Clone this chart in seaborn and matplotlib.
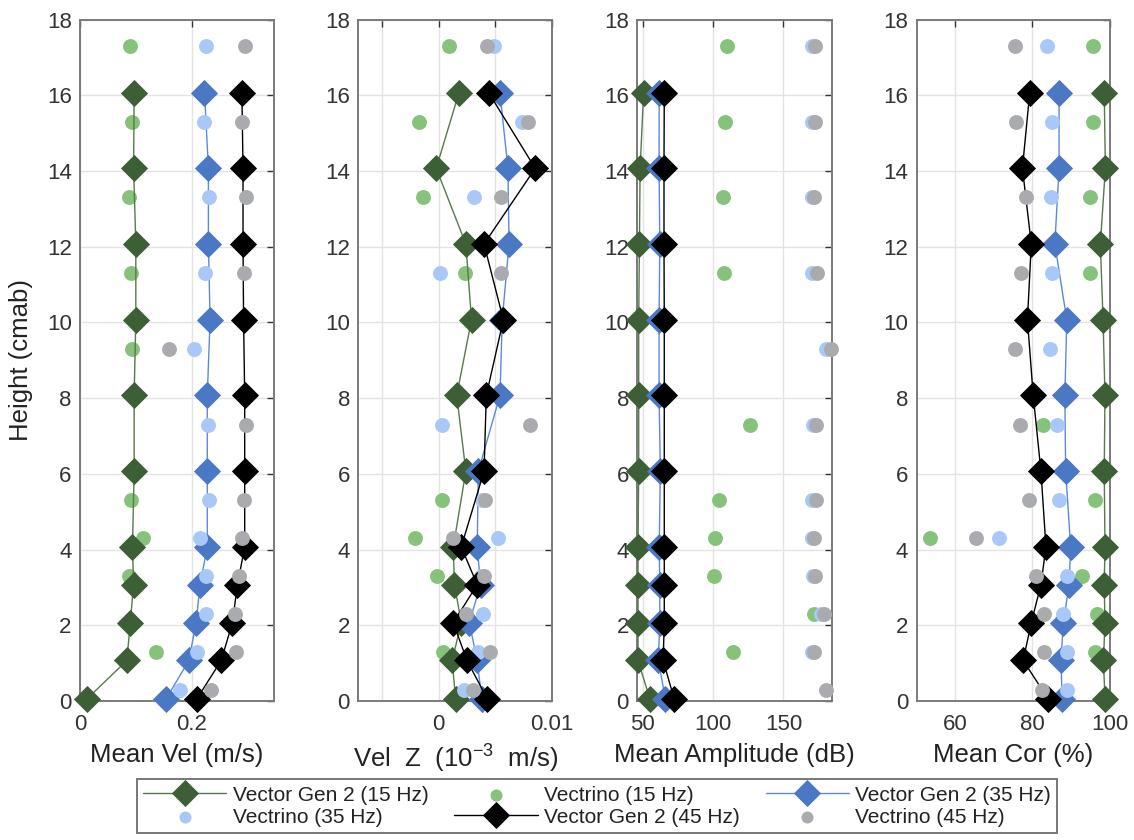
import numpy as np
import matplotlib
matplotlib.use("Agg")
import matplotlib.pyplot as plt
from matplotlib.collections import PathCollection
import seaborn as sns

nan = np.nan

# Heights (cm above bed)
h_vector = [0.05, 1.07, 2.07, 3.07, 4.07, 6.07, 8.07, 10.07, 12.07, 14.07, 16.07]
h_vectrino = [0.3, 1.3, 2.3, 3.3, 4.3, 5.3, 7.3, 9.3, 11.3, 13.3, 15.3, 17.3]

# Mean velocity (m/s)
vel_vg15 = [0.012, 0.084, 0.090, 0.096, 0.094, 0.097, 0.097, 0.100, 0.100, 0.096, 0.097]
vel_vec15 = [nan, 0.137, nan, 0.088, 0.112, 0.091, nan, 0.094, 0.091, 0.088, 0.094, 0.090]
vel_vg35 = [0.154, 0.195, 0.208, 0.215, 0.228, 0.228, 0.228, 0.233, 0.230, 0.230, 0.223]
vel_vec35 = [0.179, 0.209, 0.225, 0.225, 0.215, 0.231, 0.230, 0.205, 0.224, 0.231, 0.223, 0.226]
vel_vg45 = [0.209, 0.253, 0.273, 0.282, 0.295, 0.295, 0.295, 0.293, 0.292, 0.292, 0.290]
vel_vec45 = [0.235, 0.279, 0.277, 0.284, 0.291, 0.293, 0.297, 0.160, 0.294, 0.297, 0.291, 0.296]

# Vertical velocity
velz_vg15 = [0.0015, 0.0012, 0.0020, 0.0014, 0.0013, 0.0024, 0.0016, 0.0029, 0.0024, -0.0002, 0.0018]
velz_vec15 = [nan, 0.0004, nan, -0.0001, -0.0021, 0.0003, nan, nan, 0.0023, -0.0014, -0.0017, 0.0009]
velz_vg35 = [0.0038, 0.0034, 0.0027, 0.0037, 0.0034, 0.0035, 0.0054, 0.0056, 0.0062, 0.0061, 0.0054]
velz_vec35 = [0.0022, 0.0035, 0.0039, 0.0037, 0.0052, 0.0038, 0.0003, nan, 0.0001, 0.0031, 0.0073, 0.0049]
velz_vg45 = [0.0043, 0.0025, 0.0013, 0.0034, 0.0020, 0.0040, 0.0042, 0.0057, 0.0040, 0.0085, 0.0044]
velz_vec45 = [0.0030, 0.0045, 0.0024, 0.0040, 0.0013, 0.0041, 0.0080, nan, 0.0055, 0.0055, 0.0079, 0.0043]

# Mean amplitude (dB)
amp_vg15 = [55, 46.5, 46.5, 46.5, 46.5, 47, 47, 47, 47.5, 48, 50.5]
amp_vec15 = [nan, 114.3, 171.8, 100.5, 101.2, 104.3, 126, nan, 107.6, 107.1, 108.3, 109.5]
amp_vg35 = [66, 61, 62, 62, 61.6, 62.4, 61.5, 61.5, 62, 61.5, 61.6]
amp_vec35 = [nan, 170.4, 177, 171, 170.4, 170.4, 171, 180.6, 170.4, 170.4, 170.4, 170.4]
amp_vg45 = [72.3, 64.4, 65.2, 65.2, 65.2, 65.2, 65.2, 65.2, 65, 65, 65.2]
amp_vec45 = [180.6, 172, 178.7, 172.3, 172, 173.5, 173.5, 183.7, 174, 171.6, 172.3, 172.8]

# Mean correlation (%)
cor_vg15 = [98.8, 98.4, 98.8, 98.6, 98.8, 98.6, 98.8, 98.3, 97.6, 98.9, 98.6]
cor_vec15 = [nan, 96.3, 96.7, 92.8, 53.4, 96.3, 82.8, nan, 94.8, 94.8, 95.6, 95.6]
cor_vg35 = [87.7, 87.4, 88, 89.5, 89.9, 88.6, 88.4, 88.9, 85.8, 86.9, 86.9]
cor_vec35 = [88.9, 88.9, 87.8, 88.9, 71.3, 86.9, 86.4, 84.5, 85, 84.8, 85, 83.7]
cor_vg45 = [84.1, 77.6, 79.7, 82.2, 83.5, 82.2, 80.2, 78.7, 79.7, 77.4, 79.3]
cor_vec45 = [82.5, 83.1, 83.1, 80.9, 65.4, 79.2, 76.9, 75.4, 77.1, 78.2, 75.8, 75.6]

labels = ["Vector Gen 2 (15 Hz)", "Vectrino (15 Hz)", "Vector Gen 2 (35 Hz)",
          "Vectrino (35 Hz)", "Vector Gen 2 (45 Hz)", "Vectrino (45 Hz)"]
xlabels = ["Mean Vel (m/s)", "Vel  Z  (10$^{-3}$  m/s)", "Mean Amplitude (dB)", "Mean Cor (%)"]
yticks = list(range(0, 19, 2))

sns.set_theme(style="white")
plt.rcParams["font.family"] = ["Liberation Sans", "DejaVu Sans"]
plt.rcParams["mathtext.fontset"] = "custom"
plt.rcParams["mathtext.rm"] = "Liberation Sans"
plt.rcParams["mathtext.it"] = "Liberation Sans"

fig = plt.figure(figsize=(11.34, 8.4), dpi=100)

c_vg15_m, c_vg15_l, c_vec15 = "#3d5f35", "#567a4c", "#85c27a"
c_vg35_m, c_vg35_l, c_vec35 = "#4a78c4", "#5b8ad8", "#a8c8f8"
c_vg45_m, c_vg45_l, c_vec45 = "#000000", "#000000", "#a9abae"

lefts = [80, 358.3, 637.3, 916.7]
widths = [194, 194, 195, 193.3]
bottom = 1 - 701 / 840
height = 681.5 / 840

panels = [
    (vel_vg15, vel_vec15, vel_vg35, vel_vec35, vel_vg45, vel_vec45),
    (velz_vg15, velz_vec15, velz_vg35, velz_vec35, velz_vg45, velz_vec45),
    (amp_vg15, amp_vec15, amp_vg35, amp_vec35, amp_vg45, amp_vec45),
    (cor_vg15, cor_vec15, cor_vg35, cor_vec35, cor_vg45, cor_vec45),
]
xlims = [(0, 0.3475), (-0.00705, 0.01), (46, 184.8), (50, 100.1)]
xticks = [[0, 0.2], [-0.005, 0, 0.005, 0.01], [50, 100, 150], [60, 80, 100]]
xticklabels = [["0", "0.2"], ["", "0", "", "0.01"], ["50", "100", "150"], ["60", "80", "100"]]

axes = []
for i, data in enumerate(panels):
    ax = fig.add_axes([lefts[i] / 1134, bottom, widths[i] / 1134, height])
    axes.append(ax)
    vg15, vec15, vg35, vec35, vg45, vec45 = data
    line_kw = dict(sort=False, estimator=None, legend=False, marker="D", markersize=13,
                   markeredgewidth=0.6, clip_on=False)
    dot_kw = dict(s=115, linewidth=0, legend=False, clip_on=False)
    sns.scatterplot(x=vec15, y=h_vectrino, color=c_vec15, ax=ax, zorder=3, label=labels[1], **dot_kw)
    sns.lineplot(x=vg15, y=h_vector, color=c_vg15_l, lw=1.0, markerfacecolor=c_vg15_m,
                 markeredgecolor=c_vg15_m, ax=ax, zorder=4, label=labels[0], **line_kw)
    sns.lineplot(x=vg35, y=h_vector, color=c_vg35_l, lw=1.0, markerfacecolor=c_vg35_m,
                 markeredgecolor=c_vg35_m, ax=ax, zorder=5, label=labels[2], **line_kw)
    sns.scatterplot(x=vec35, y=h_vectrino, color=c_vec35, ax=ax, zorder=6, label=labels[3], **dot_kw)
    sns.lineplot(x=vg45, y=h_vector, color=c_vg45_l, lw=1.0, markerfacecolor=c_vg45_m,
                 markeredgecolor=c_vg45_m, ax=ax, zorder=7, label=labels[4], **line_kw)
    sns.scatterplot(x=vec45, y=h_vectrino, color=c_vec45, ax=ax, zorder=8, label=labels[5], **dot_kw)

    ax.set_xlim(*xlims[i])
    ax.set_ylim(0, 18)
    ax.set_xticks(xticks[i])
    ax.set_xticklabels(xticklabels[i])
    ax.set_yticks(yticks)
    ax.set_yticklabels([str(t) for t in yticks])
    ax.grid(True, color="#e3e3e3", lw=1.0, zorder=0)
    ax.set_axisbelow(True)
    ax.tick_params(direction="in", top=True, right=True, length=5, width=1.0,
                   colors="#333333", labelsize=16, pad=6)
    ax.tick_params(axis="x", pad=9)
    for sp in ax.spines.values():
        sp.set_color("#7a7a7a")
        sp.set_linewidth(1.4)
    ax.set_xlabel(xlabels[i], fontsize=18.5, color="#222222", labelpad=6)
    ax.set_ylabel("")

axes[0].set_ylabel("Height (cmab)", fontsize=18.5, color="#222222", labelpad=10)

h, l = axes[0].get_legend_handles_labels()
lookup = dict(zip(l, h))
order = [labels[0], labels[3], labels[1], labels[4], labels[2], labels[5]]
leg = fig.legend([lookup[k] for k in order], order, loc="lower center",
                 bbox_to_anchor=(597 / 1134, -0.004), ncol=3, fontsize=15,
                 frameon=True, fancybox=False, edgecolor="#777777", framealpha=1,
                 handlelength=4.0, handletextpad=0.3, columnspacing=1.25,
                 labelspacing=0.15, borderpad=0.3, numpoints=1, scatterpoints=1)
leg.get_frame().set_linewidth(1.4)
for t in leg.get_texts():
    t.set_color("#222222")
for hd in leg.legend_handles:
    if isinstance(hd, PathCollection):
        hd.set_sizes([75])

fig.savefig("out.png", dpi=100)
